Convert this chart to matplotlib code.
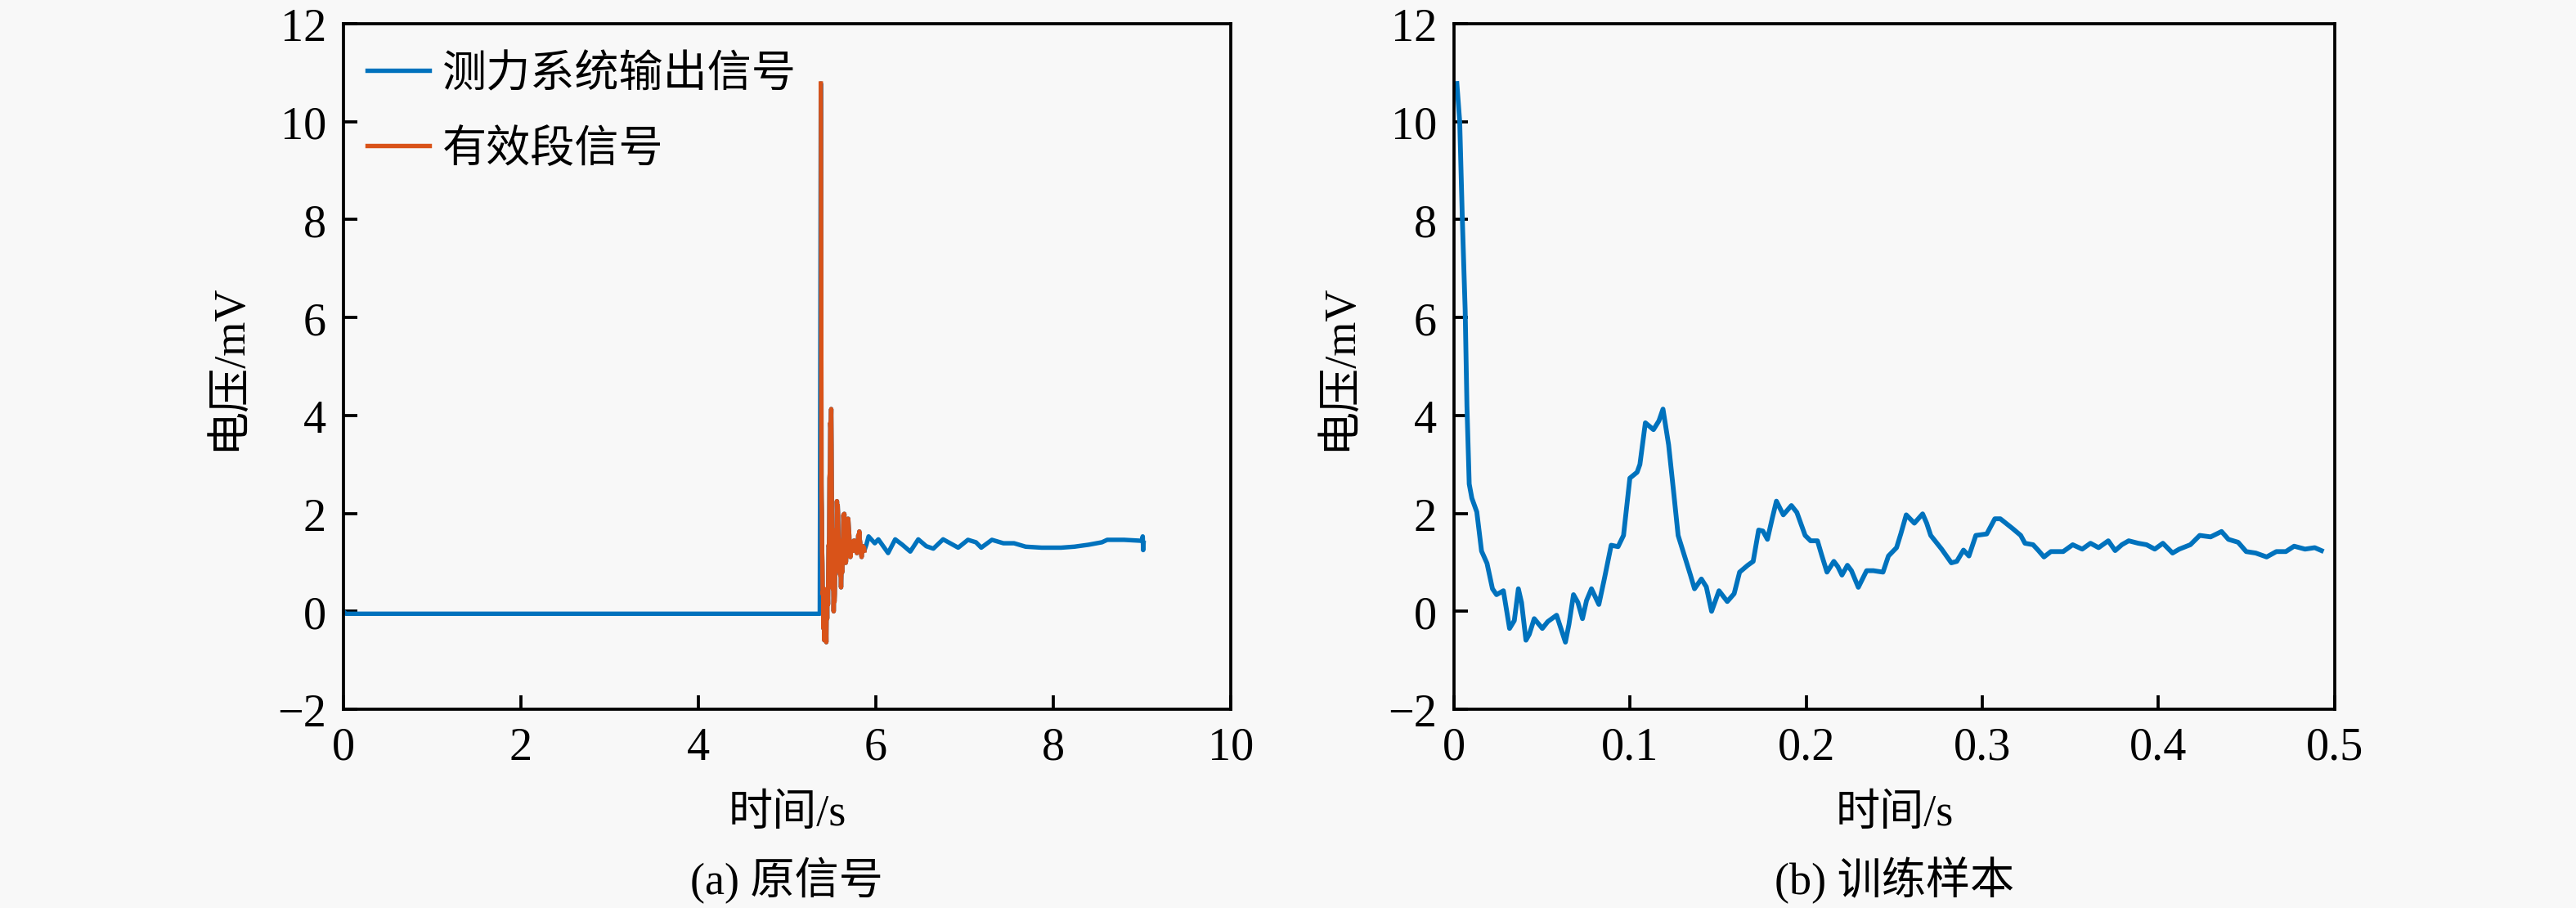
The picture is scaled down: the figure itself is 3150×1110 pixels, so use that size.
import numpy as np
import matplotlib
matplotlib.use("Agg")
import matplotlib.pyplot as plt

plt.rcParams['font.family'] = ['Liberation Serif', 'Noto Sans CJK SC']
plt.rcParams['font.size'] = 13

# effective segment (training sample), time from segment start
t_seg = [0.0017, 0.0033, 0.0048, 0.0064, 0.0074, 0.0087, 0.0102, 0.0130, 0.0157, 0.0188,
         0.0219, 0.0242, 0.0281, 0.0316, 0.0343, 0.0366, 0.0384, 0.0409, 0.0428, 0.0456,
         0.0502, 0.0533, 0.0583, 0.0611, 0.0633, 0.0653, 0.0679, 0.0704, 0.0730, 0.0753,
         0.0781, 0.0823, 0.0854, 0.0893, 0.0932, 0.0963, 0.0999, 0.1040, 0.1056, 0.1087,
         0.1133, 0.1164, 0.1187, 0.1219, 0.1250, 0.1273, 0.1312, 0.1343, 0.1366, 0.1405,
         0.1433, 0.1463,
         0.1505, 0.1552, 0.1591, 0.1622, 0.1668, 0.1699, 0.1730, 0.1754, 0.1780, 0.1808,
         0.1831, 0.1870, 0.1916, 0.1947, 0.1994, 0.2025, 0.2064, 0.2087, 0.2118, 0.2157,
         0.2180, 0.2203, 0.2234, 0.2257, 0.2296, 0.2343, 0.2381, 0.2436, 0.2467, 0.2513,
         0.2537, 0.2568, 0.2614, 0.2661, 0.2684, 0.2707, 0.2769, 0.2824, 0.2855, 0.2893,
         0.2924, 0.2963, 0.3025, 0.3071, 0.3102, 0.3172, 0.3218,
         0.3242, 0.3288, 0.3319, 0.3350, 0.3389, 0.3459, 0.3513, 0.3567, 0.3614, 0.3660,
         0.3715, 0.3754, 0.3792, 0.3831, 0.3885, 0.3932, 0.3979, 0.4025, 0.4080, 0.4118,
         0.4181, 0.4234, 0.4296, 0.4358, 0.4397, 0.4452, 0.4498, 0.4552, 0.4614, 0.4669,
         0.4723, 0.4770, 0.4832, 0.4887, 0.4925]
v_seg = [10.78, 10.0, 8.0, 6.15, 4.2, 2.6, 2.31, 2.03, 1.23, 0.98,
         0.46, 0.34, 0.42, -0.35, -0.19, 0.46, 0.18, -0.59, -0.47, -0.15,
         -0.35, -0.21, -0.08, -0.39, -0.63, -0.27, 0.34, 0.18, -0.15, 0.22,
         0.46, 0.14, 0.66, 1.35, 1.32, 1.55, 2.72, 2.84, 3.0, 3.85,
         3.71, 3.89, 4.13, 3.40, 2.35, 1.55, 1.10, 0.74, 0.46, 0.66,
         0.50, 0.0,
         0.42, 0.20, 0.36, 0.80, 0.94, 1.02, 1.66, 1.64, 1.47, 1.91,
         2.25, 1.97, 2.16, 2.02, 1.55, 1.44, 1.44, 1.16, 0.80, 1.02,
         0.91, 0.74, 0.94, 0.83, 0.49, 0.83, 0.83, 0.80, 1.13, 1.30,
         1.58, 1.97, 1.80, 1.99, 1.80, 1.55, 1.27, 0.99, 1.02, 1.25,
         1.13, 1.55, 1.58, 1.89, 1.89, 1.69, 1.55,
         1.39, 1.36, 1.24, 1.11, 1.22, 1.22, 1.36, 1.27, 1.39, 1.30,
         1.44, 1.24, 1.36, 1.44, 1.39, 1.36, 1.27, 1.39, 1.19, 1.27,
         1.36, 1.55, 1.52, 1.63, 1.47, 1.41, 1.22, 1.19, 1.11, 1.22,
         1.22, 1.33, 1.27, 1.30, 1.24]

# start of the effective segment inside the raw record
t_start = 5.38

# raw record before and after the segment
t_pre = [0.0, 0.03, 0.1, 5.37]
v_pre = [0.0, -0.05, -0.05, -0.05]
t_post = [5.895, 5.92, 5.99, 6.03, 6.14, 6.22, 6.30, 6.39, 6.48, 6.57,
          6.65, 6.76, 6.84, 6.93, 7.04, 7.13, 7.19, 7.31, 7.44, 7.56,
          7.69, 7.87, 8.09, 8.24, 8.40, 8.55, 8.61, 8.80, 9.00, 9.01, 9.015, 9.02]
v_post = [1.36, 1.53, 1.39, 1.47, 1.19, 1.47, 1.36, 1.22, 1.47, 1.33,
          1.28, 1.47, 1.39, 1.30, 1.46, 1.41, 1.30, 1.46, 1.39, 1.39,
          1.32, 1.30, 1.30, 1.32, 1.36, 1.41, 1.46, 1.46, 1.44, 1.53, 1.25, 1.40]

seg_abs = np.array(t_seg) + t_start
t_raw = np.concatenate([t_pre, seg_abs, t_post])
v_raw = np.concatenate([v_pre, v_seg, v_post])

blue = '#0072BD'
orange = '#D95319'
bg = '#f8f8f8'

fig = plt.figure(figsize=(10.5, 3.7033), dpi=300, facecolor=bg)
ax1 = fig.add_axes([0.1333, 0.2187, 0.3444, 0.7543], facecolor=bg)
ax2 = fig.add_axes([0.5644, 0.2187, 0.3419, 0.7543], facecolor=bg)

ax1.plot(t_raw, v_raw, color=blue, lw=1.3, label='测力系统输出信号')
ax1.plot(seg_abs, v_seg, color=orange, lw=1.3, label='有效段信号')
ax2.plot(t_seg, v_seg, color=blue, lw=1.4)

ax1.set_xlim(0, 10)
ax1.set_xticks([0, 2, 4, 6, 8, 10])
ax2.set_xlim(0, 0.5)
ax2.set_xticks([0, 0.1, 0.2, 0.3, 0.4, 0.5])
ax2.set_xticklabels(['0', '0.1', '0.2', '0.3', '0.4', '0.5'])

for ax in (ax1, ax2):
    ax.set_ylim(-2, 12)
    ax.set_yticks([-2, 0, 2, 4, 6, 8, 10, 12])
    ax.tick_params(direction='in', length=4, width=0.9, pad=5, labelsize=13.5)
    for s in ax.spines.values():
        s.set_linewidth(0.9)
    ax.set_xlabel('时间/s', fontsize=13, labelpad=7)
    ax.set_ylabel('电压/mV', fontsize=13, labelpad=8)

ax1.legend(loc='upper left', bbox_to_anchor=(0.027, 0.955), frameon=False,
           borderaxespad=0, borderpad=0, handlelength=1.4, handletextpad=0.3,
           labelspacing=0.76, fontsize=13)

fig.text(0.3054, 0.031, '(a) 原信号', ha='center', va='center', fontsize=13)
fig.text(0.7354, 0.031, '(b) 训练样本', ha='center', va='center', fontsize=13)

fig.savefig('out.png', dpi=300, facecolor=bg)
